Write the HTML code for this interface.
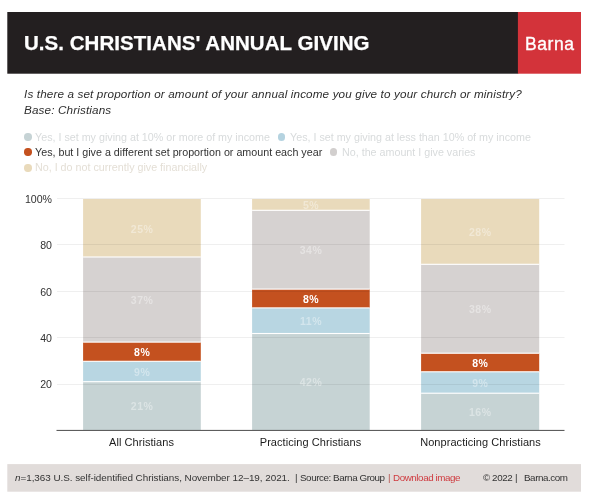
<!DOCTYPE html>
<html><head><meta charset="utf-8">
<style>
html,body{margin:0;padding:0;background:#fff;}
body{width:600px;height:502px;position:relative;overflow:hidden;font-family:"Liberation Sans",sans-serif;}
.abs{position:absolute;white-space:nowrap;}
.abs,.bl,.xl,.yl{will-change:transform;}
#banner,#red,#foot{will-change:auto;}
#banner{left:7.5px;top:12px;width:512px;height:61.5px;background:#231f20;}
#red{left:518px;top:12px;width:63px;height:61.5px;background:#d1343a;}
#title{-webkit-text-stroke:0.25px #fff;left:24px;top:31.2px;font-size:20.5px;font-weight:bold;color:#fff;line-height:24px;letter-spacing:0.04px;}
#barna{left:525.3px;top:33.2px;font-size:17.5px;color:#fff;line-height:22px;letter-spacing:0.6px;-webkit-text-stroke:0.35px #fff;}
#sub{left:23.7px;top:86.0px;font-size:11.7px;font-style:italic;color:#2e2e2e;line-height:15.6px;letter-spacing:0.135px;}
.leg{font-size:10.72px;line-height:13px;color:#d8dbdc;}
.dot{position:absolute;width:7.4px;height:7.4px;margin:0.3px;border-radius:50%;}
.grid{position:absolute;left:57px;width:507.4px;height:1px;background:rgba(0,0,0,0.07);}
.yl{position:absolute;width:52px;left:0;text-align:right;font-size:10.6px;color:#333;line-height:12px;}
.seg{position:absolute;}
.bl{position:absolute;font-size:10.5px;font-weight:bold;color:rgba(255,255,255,0.38);text-align:center;line-height:12px;letter-spacing:0.6px;text-indent:0.6px;}
.xl{position:absolute;font-size:11px;letter-spacing:0.06px;color:#1c1c1c;text-align:center;line-height:12px;width:169px;}
#foot{left:7.5px;top:464px;width:573.5px;height:28px;background:#e1dcda;}
.ft{font-size:9.8px;color:#333;line-height:12px;top:472.4px;}
.ft2{letter-spacing:-0.42px;}
</style></head><body>
<svg style="position:absolute;left:0;top:0" width="600" height="502" viewBox="0 0 600 502"><rect x="7.3" y="12" width="511" height="61.7" fill="#231f20"/><rect x="517.9" y="12" width="63.1" height="61.7" fill="#d3333a"/><rect x="7.3" y="464.1" width="573.7" height="27.6" fill="#e1dcda"/></svg>
<div class="abs" id="title">U.S. CHRISTIANS' ANNUAL GIVING</div>
<div class="abs" id="barna">Barna</div>
<div class="abs" id="sub">Is there a set proportion or amount of your annual income you give to your church or ministry?<br>Base: Christians</div>

<div class="dot" style="left:24px;top:133px;background:#c6d3d5"></div>
<div class="abs leg" style="left:35.3px;top:130.5px">Yes, I set my giving at 10% or more of my income</div>
<div class="dot" style="left:277.7px;top:133px;background:#b5d3e0"></div>
<div class="abs leg" style="left:289.8px;top:130.5px">Yes, I set my giving at less than 10% of my income</div>
<div class="dot" style="left:24px;top:148.0px;background:#c4511f"></div>
<div class="abs leg" style="left:35.3px;top:145.5px;color:#333">Yes, but I give a different set proportion or amount each year</div>
<div class="dot" style="left:329.3px;top:148.0px;background:#d2cfce"></div>
<div class="abs leg" style="left:341.7px;top:145.5px">No, the amount I give varies</div>
<div class="dot" style="left:24px;top:164.2px;background:#e9dabb"></div>
<div class="abs leg" style="left:35.3px;top:161.2px;color:#e4dfd6">No, I do not currently give financially</div>

<svg class="abs" style="left:0;top:0;will-change:auto" width="600" height="502" viewBox="0 0 600 502">
<rect x="83.1" y="381.70" width="117.70" height="48.30" fill="#c6d3d4"/>
<rect x="83.1" y="361.30" width="117.70" height="20.40" fill="#b8d6e2"/>
<rect x="83.1" y="342.10" width="117.70" height="19.20" fill="#c4511f"/>
<rect x="83.1" y="257.00" width="117.70" height="85.10" fill="#d6d2d1"/>
<rect x="83.1" y="199.00" width="117.70" height="58.00" fill="#e9dabb"/>
<rect x="83.1" y="381.15" width="117.70" height="1.1" fill="#fff"/>
<rect x="83.1" y="360.75" width="117.70" height="1.1" fill="#fff"/>
<rect x="83.1" y="341.55" width="117.70" height="1.1" fill="#fff"/>
<rect x="83.1" y="256.45" width="117.70" height="1.1" fill="#fff"/>
<rect x="252.1" y="333.50" width="117.60" height="96.50" fill="#c6d3d4"/>
<rect x="252.1" y="307.90" width="117.60" height="25.60" fill="#b8d6e2"/>
<rect x="252.1" y="289.10" width="117.60" height="18.80" fill="#c4511f"/>
<rect x="252.1" y="210.30" width="117.60" height="78.80" fill="#d6d2d1"/>
<rect x="252.1" y="199.00" width="117.60" height="11.30" fill="#e9dabb"/>
<rect x="252.1" y="332.95" width="117.60" height="1.1" fill="#fff"/>
<rect x="252.1" y="307.35" width="117.60" height="1.1" fill="#fff"/>
<rect x="252.1" y="288.55" width="117.60" height="1.1" fill="#fff"/>
<rect x="252.1" y="209.75" width="117.60" height="1.1" fill="#fff"/>
<rect x="421.1" y="393.20" width="118.10" height="36.80" fill="#c6d3d4"/>
<rect x="421.1" y="371.80" width="118.10" height="21.40" fill="#b8d6e2"/>
<rect x="421.1" y="353.20" width="118.10" height="18.60" fill="#c4511f"/>
<rect x="421.1" y="264.30" width="118.10" height="88.90" fill="#d6d2d1"/>
<rect x="421.1" y="199.00" width="118.10" height="65.30" fill="#e9dabb"/>
<rect x="421.1" y="392.65" width="118.10" height="1.1" fill="#fff"/>
<rect x="421.1" y="371.25" width="118.10" height="1.1" fill="#fff"/>
<rect x="421.1" y="352.65" width="118.10" height="1.1" fill="#fff"/>
<rect x="421.1" y="263.75" width="118.10" height="1.1" fill="#fff"/>
<rect x="57" y="384" width="507.5" height="1" fill="#000" fill-opacity="0.062"/>
<rect x="57" y="337" width="507.5" height="1" fill="#000" fill-opacity="0.062"/>
<rect x="57" y="291" width="507.5" height="1" fill="#000" fill-opacity="0.062"/>
<rect x="57" y="244" width="507.5" height="1" fill="#000" fill-opacity="0.062"/>
<rect x="57" y="198" width="507.5" height="1" fill="#000" fill-opacity="0.062"/>
<rect x="56.5" y="429.9" width="508" height="1.05" fill="#555"/>
</svg>
<div class="bl" style="left:83.1px;width:117.70px;top:400.45px;">21%</div>
<div class="bl" style="left:83.1px;width:117.70px;top:366.10px;">9%</div>
<div class="bl" style="left:83.1px;width:117.70px;top:346.30px;color:#fff">8%</div>
<div class="bl" style="left:83.1px;width:117.70px;top:294.15px;">37%</div>
<div class="bl" style="left:83.1px;width:117.70px;top:222.60px;">25%</div>
<div class="bl" style="left:252.1px;width:117.60px;top:376.35px;">42%</div>
<div class="bl" style="left:252.1px;width:117.60px;top:315.30px;">11%</div>
<div class="bl" style="left:252.1px;width:117.60px;top:293.10px;color:#fff">8%</div>
<div class="bl" style="left:252.1px;width:117.60px;top:244.30px;">34%</div>
<div class="bl" style="left:252.1px;width:117.60px;top:199.25px;">5%</div>
<div class="bl" style="left:421.1px;width:118.10px;top:406.20px;">16%</div>
<div class="bl" style="left:421.1px;width:118.10px;top:377.10px;">9%</div>
<div class="bl" style="left:421.1px;width:118.10px;top:357.10px;color:#fff">8%</div>
<div class="bl" style="left:421.1px;width:118.10px;top:303.35px;">38%</div>
<div class="bl" style="left:421.1px;width:118.10px;top:226.25px;">28%</div>
<div class="yl" style="top:378.07px">20</div>
<div class="yl" style="top:331.84px">40</div>
<div class="yl" style="top:285.61px">60</div>
<div class="yl" style="top:239.38px">80</div>
<div class="yl" style="top:193.15px">100%</div>
<div class="xl" style="left:57.45px;top:435.6px">All Christians</div>
<div class="xl" style="left:226.40px;top:435.6px">Practicing Christians</div>
<div class="xl" style="left:395.65px;top:435.6px">Nonpracticing Christians</div>

<div class="abs ft" style="left:15.4px;font-size:9.9px;letter-spacing:-0.035px"><i>n</i>=1,363 U.S. self-identified Christians, November 12–19, 2021.</div>
<div class="abs ft" style="left:295.1px">|</div>
<div class="abs ft ft2" style="left:300.3px">Source: Barna Group</div>
<div class="abs ft" style="left:387.6px;color:#b5544f">|</div>
<div class="abs ft ft2" style="left:392.9px;color:#cf3a3f">Download image</div>
<div class="abs ft ft2" style="left:482.5px">© 2022</div>
<div class="abs ft" style="left:514.8px">|</div>
<div class="abs ft ft2" style="left:524px">Barna.com</div>
</body></html>
